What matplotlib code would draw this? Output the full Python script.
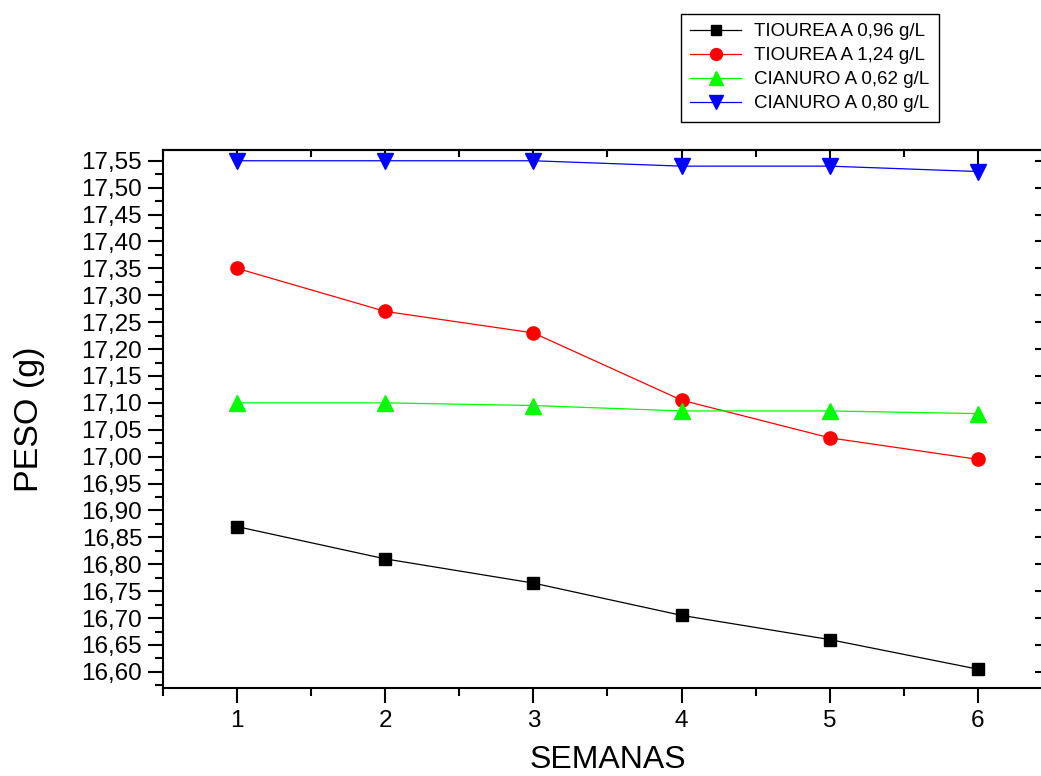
import matplotlib
matplotlib.use("Agg")
import matplotlib.pyplot as plt
from matplotlib.ticker import MultipleLocator, FuncFormatter

plt.rcParams['font.family'] = ['Liberation Sans', 'DejaVu Sans']

semanas = [1, 2, 3, 4, 5, 6]
tiourea_096 = [16.87, 16.81, 16.765, 16.705, 16.66, 16.605]
tiourea_124 = [17.35, 17.27, 17.23, 17.105, 17.035, 16.995]
cianuro_062 = [17.10, 17.10, 17.095, 17.085, 17.085, 17.08]
cianuro_080 = [17.55, 17.55, 17.55, 17.54, 17.54, 17.53]

labels = ["TIOUREA A 0,96 g/L", "TIOUREA A 1,24 g/L",
          "CIANURO A 0,62 g/L", "CIANURO A 0,80 g/L"]

W, H = 1041, 776
fig = plt.figure(figsize=(W / 100, H / 100), dpi=100)
ax = fig.add_axes([163 / W, 1 - 688 / H, (1052 - 163) / W, (688 - 150) / H])

ax.plot(semanas, tiourea_096, color='black', lw=0.9, marker='s', ms=8, label=labels[0])
ax.plot(semanas, tiourea_124, color='#FF0000', lw=0.9, marker='o', ms=9.5, label=labels[1])
ax.plot(semanas, cianuro_062, color='#00FF00', lw=0.9, marker='^', ms=11, label=labels[2])
ax.plot(semanas, cianuro_080, color='#0000FF', lw=0.9, marker='v', ms=11, label=labels[3])

ax.set_xlim(0.5, 6.5)
ax.set_ylim(16.57, 17.57)
ax.xaxis.set_major_locator(MultipleLocator(1))
ax.xaxis.set_minor_locator(MultipleLocator(0.5))
ax.yaxis.set_major_locator(MultipleLocator(0.05))
ax.yaxis.set_minor_locator(MultipleLocator(0.025))
ax.yaxis.set_major_formatter(FuncFormatter(lambda v, p: f"{v:.2f}".replace('.', ',')))
ax.xaxis.set_major_formatter(FuncFormatter(lambda v, p: f"{v:.0f}"))

ax.tick_params(which='major', direction='out', length=11, width=1.5, labelsize=17.5, pad=4)
ax.tick_params(which='minor', direction='out', length=5.5, width=1.5)
ax.tick_params(axis='x', pad=5)
for s in ax.spines.values():
    s.set_linewidth(1.5)

top = ax.secondary_xaxis('top')
top.xaxis.set_major_locator(MultipleLocator(1))
top.xaxis.set_minor_locator(MultipleLocator(0.5))
top.tick_params(which='major', direction='in', length=12, width=1.5, labeltop=False)
top.tick_params(which='minor', direction='in', length=5, width=1.5)
top.spines['top'].set_linewidth(1.5)

right = ax.secondary_yaxis('right')
right.yaxis.set_major_locator(MultipleLocator(0.05))
right.yaxis.set_minor_locator(MultipleLocator(0.025))
right.tick_params(which='major', direction='in', length=12, width=1.5, labelright=False)
right.tick_params(which='minor', direction='in', length=5, width=1.5)

ax.set_xlabel("SEMANAS", fontsize=23, labelpad=9)
ax.set_ylabel("PESO (g)", fontsize=24.5, labelpad=26)

fig.legend(loc='upper left', bbox_to_anchor=(681 / W, 1 - 14 / H), fontsize=13.5,
           frameon=True, fancybox=False, edgecolor='black', framealpha=1,
           handlelength=2.7, handletextpad=0.7, labelspacing=0.36,
           borderpad=0.5, borderaxespad=0, numpoints=1, markerscale=0.9)

fig.savefig("out.png", dpi=100)
